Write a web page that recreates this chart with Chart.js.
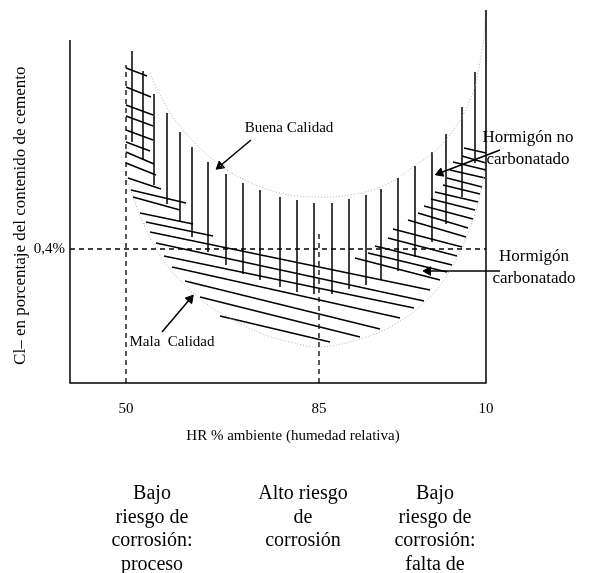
<!DOCTYPE html>
<html>
<head>
<meta charset="utf-8">
<script src="https://cdn.jsdelivr.net/npm/chart.js@4/dist/chart.umd.min.js"></script>
<style>
  body { margin: 0; background: #fff; }
  #wrap { position: relative; width: 606px; height: 573px; overflow: hidden; }
  .note { position: absolute; width: 130px; text-align: center; color: #000;
          font-family: 'Liberation Serif', 'Times New Roman', serif; font-size: 20px; line-height: 23.5px; }
</style>
</head>
<body>
<div id="wrap">
  <canvas id="chart" width="606" height="573"></canvas>
</div>
<script>
const serif = "'Liberation Serif', 'Times New Roman', serif";

// axis ticks
const xTickValues = [14, 62.25, 104];
const xTickLabels = ['50', '85', '10'];
const yTickValues = [33.5];
const yTickLabels = ['0,4%'];

// frame: left axis, bottom axis, right axis
const frameX = [0, 0, 104, 104];
const frameY = [85.75, 0, 0, 93.25];

// dashed reference lines (0,4% / 50 / 85)
const refX = [0, 104, null, 14, 14, null, 62.25, 62.25];
const refY = [33.5, 33.5, null, 0, 79.5, null, 0, 37.5];

// "Buena Calidad" curve
const goodX = [20, 22.5, 26.25, 31.25, 36.75, 43.75, 52.5, 61.75, 70, 78.75, 85.75, 93.25, 100, 103, 104];
const goodY = [77.5, 72, 65.75, 60, 55, 50.75, 47.5, 46.5, 47, 49.5, 54, 60, 70.75, 83.25, 93.25];

// "Mala Calidad" curve
const badX = [14, 15.75, 18.25, 21.25, 24.5, 29.25, 34.5, 40, 47.5, 55, 62.5, 73.25, 81.75, 90, 95, 99.25, 102.5, 104, 104, 104];
const badY = [51.25, 46.5, 40, 34, 29, 24, 19.5, 16.25, 12.5, 10.25, 9, 11.25, 15, 21.5, 28.25, 36.75, 47, 58.25, 70.75, 93.25];

// vertical hatching (non carbonated concrete)
const vX = [15.5, 18.25, 21, 24.25, 27.5, 30.5, 34.5, 39, 43.25, 47.5, 52.5, 56.75, 61, 65.5, 69.75, 74, 77.75, 82, 86.25, 90.5, 94, 98, 101.25];
const vTop = [83, 78, 72.25, 67.5, 62.75, 59, 55.25, 52.25, 50, 48.25, 46.5, 45.75, 45, 45, 46, 47, 48.5, 51.25, 54.25, 57.75, 62.25, 69, 77.75];
const vBottom = [60.25, 55.75, 49.5, 44.75, 40.5, 36.5, 32.75, 29.5, 27.25, 25.75, 24, 22.75, 22.25, 22.25, 23.5, 24.5, 25.75, 28, 31.5, 35.25, 39.75, 46.5, 55];

// slanted hatching (carbonated concrete)
const sX1 = [14, 14, 14, 14, 14, 14, 14, 14, 14.5, 15.25, 15.75, 17.5, 19, 20, 21.5, 23.5, 25.5, 28.75, 32.5, 37.5, 98.5, 98, 95.75, 95, 94.25, 93.25, 91.25, 90.25, 88.5, 87, 84.5, 80.75, 79.5, 76.25, 74.5, 71.25];
const sY1 = [78.75, 74, 69.5, 66.75, 63.25, 60.25, 57.75, 55, 51.25, 48.25, 46.5, 42.5, 40.25, 37.75, 35, 31.75, 29, 25.5, 21.5, 16.75, 58.75, 56.75, 55.25, 53.25, 51.25, 49.5, 47.75, 46, 44.25, 42.5, 40.75, 38.5, 36.25, 34.25, 32.5, 31.25];
const sX2 = [19.25, 20.25, 20.75, 20.75, 20.75, 20, 21, 21.5, 22.75, 29, 27.5, 30.75, 35.75, 90, 88.5, 86, 82.5, 77.5, 72.5, 65, 104, 104, 104, 103.75, 103, 102.5, 102, 101.25, 100.75, 99.5, 99, 98, 96.75, 95.5, 94.25, 92.5];
const sY2 = [76.75, 71.5, 67, 64.25, 60.75, 58, 54.75, 52, 48.5, 45, 43.25, 39.75, 36.75, 23.25, 20.5, 18.75, 16.25, 13.5, 11.5, 10.25, 57.5, 55, 53.25, 51.25, 49, 47.25, 45.25, 43.25, 41, 38.75, 36.5, 34, 31.75, 29.5, 27.75, 25.75];

// arrows: tail -> head
const arrowTailX = [45.25, 23, 107.5, 107.5];
const arrowTailY = [60.75, 12.75, 58.25, 28];
const arrowHeadX = [37.5, 30, 92.5, 89.5];
const arrowHeadY = [54.25, 21, 52.5, 28];

// labels inside the chart
const noteText = ['Buena Calidad', 'Mala  Calidad', 'Hormigón no', 'carbonatado', 'Hormigón', 'carbonatado'];
const noteX = [54.75, 25.5, 114.5, 114.5, 116, 116];
const noteY = [63.75, 10.25, 61.25, 55.75, 31.5, 26];

// risk notes under the chart
const riskText = ['Bajo\nriesgo de\ncorrosión:\nproceso', 'Alto riesgo\nde\ncorrosión', 'Bajo\nriesgo de\ncorrosión:\nfalta de'];
const riskCenter = [152, 303, 435];

const toPoints = (xs, ys) => xs.map((x, i) => ({ x: x, y: ys[i] }));
const segments = (x1, y1, x2, y2) => {
  const pts = [];
  x1.forEach((x, i) => {
    pts.push({ x: x, y: y1[i] }, { x: x2[i], y: y2[i] }, { x: x2[i], y: null });
  });
  return pts;
};

const line = (data, extra) => Object.assign({
  data: data, showLine: true, pointRadius: 0, borderColor: '#000',
  borderWidth: 1.5, tension: 0, clip: false
}, extra);

const arrowRotation = ctx => {
  const d = ctx.chart.data.datasets[ctx.datasetIndex].data;
  const sx = ctx.chart.scales.x, sy = ctx.chart.scales.y;
  const dx = sx.getPixelForValue(d[1].x) - sx.getPixelForValue(d[0].x);
  const dy = sy.getPixelForValue(d[1].y) - sy.getPixelForValue(d[0].y);
  return Math.atan2(dx, -dy) * 180 / Math.PI;
};

const datasets = [
  line(toPoints(frameX, frameY)),
  line(toPoints(refX, refY), { borderDash: [5, 4], borderWidth: 1.3 }),
  line(toPoints(goodX, goodY), { borderColor: '#b0b0b0', borderWidth: 1, borderDash: [1, 2], tension: 0.4 }),
  line(toPoints(badX, badY), { borderColor: '#b0b0b0', borderWidth: 1, borderDash: [1, 2], tension: 0.4 }),
  line(segments(vX, vTop, vX, vBottom)),
  line(segments(sX1, sY1, sX2, sY2))
];

arrowTailX.forEach((x, i) => {
  datasets.push(line([{ x: x, y: arrowTailY[i] }, { x: arrowHeadX[i], y: arrowHeadY[i] }], {
    pointStyle: 'triangle',
    pointRadius: ctx => ctx.dataIndex === 1 ? 5 : 0,
    pointBackgroundColor: '#000',
    pointBorderColor: '#000',
    pointBorderWidth: 1,
    rotation: arrowRotation
  }));
});

const notePlugin = {
  id: 'notes',
  afterDatasetsDraw(chart) {
    const { ctx, scales: { x, y } } = chart;
    ctx.save();
    ctx.fillStyle = '#000';
    ctx.textAlign = 'center';
    ctx.textBaseline = 'middle';
    noteText.forEach((t, i) => {
      // the concrete labels on the right are set a bit larger
      ctx.font = (i >= 2 ? '17px ' : '15px ') + serif;
      ctx.fillText(t, x.getPixelForValue(noteX[i]), y.getPixelForValue(noteY[i]));
    });
    ctx.restore();
  }
};

new Chart(document.getElementById('chart'), {
  type: 'scatter',
  data: { datasets: datasets },
  options: {
    responsive: false,
    animation: false,
    layout: { padding: { top: 40, right: 120, left: 0, bottom: 0 } },
    plugins: { legend: { display: false }, tooltip: { enabled: false } },
    scales: {
      x: {
        type: 'linear', min: 0, max: 104,
        grid: { display: false, drawTicks: false },
        border: { display: false },
        afterBuildTicks: s => { s.ticks = xTickValues.map(v => ({ value: v })); },
        afterFit: s => { s.height = 190; },
        ticks: {
          autoSkip: false, maxRotation: 0, padding: 17, color: '#000',
          font: { family: serif, size: 15 },
          callback: (v, i) => xTickLabels[i]
        },
        title: {
          display: true, text: '        HR % ambiente (humedad relativa)', color: '#000',
          font: { family: serif, size: 15 }, padding: { top: 0, bottom: 128 }
        }
      },
      y: {
        type: 'linear', min: 0, max: 85.75,
        grid: { display: false, drawTicks: false },
        border: { display: false },
        afterBuildTicks: s => { s.ticks = yTickValues.map(v => ({ value: v })); },
        afterFit: s => { s.width = 70; },
        ticks: {
          autoSkip: false, padding: 5, color: '#000',
          font: { family: serif, size: 15 },
          callback: (v, i) => yTickLabels[i]
        },
        title: {
          display: true, text: 'Cl– en porcentaje del contenido de cemento  ', color: '#000',
          font: { family: serif, size: 17 }, padding: { top: 10, bottom: 0 }
        }
      }
    }
  },
  plugins: [notePlugin]
});

const wrap = document.getElementById('wrap');
riskText.forEach((t, i) => {
  const div = document.createElement('div');
  div.className = 'note';
  div.style.left = (riskCenter[i] - 65) + 'px';
  div.style.top = '481px';
  div.innerHTML = t.split('\n').join('<br>');
  wrap.appendChild(div);
});
</script>
</body>
</html>
